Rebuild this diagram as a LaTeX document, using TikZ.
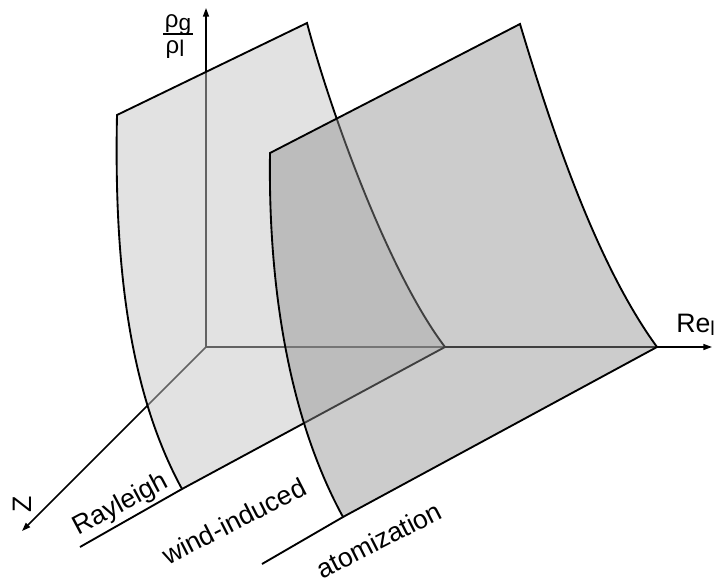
\documentclass[tikz,border=0pt]{standalone}
\usepackage{fontspec}
\setmainfont{Liberation Sans}
\usetikzlibrary{arrows.meta}
\definecolor{surfA}{gray}{0.773}
\definecolor{surfB}{gray}{0.553}
\newcommand\lowsub[2]{\raisebox{-0.25ex}{\fontsize{#1}{#1}\selectfont #2}}
\begin{document}
\begin{tikzpicture}[x=0.75pt,y=-0.75pt,
  axis/.style={line width=1.1pt,-{Triangle[length=6.5pt,width=4.5pt]}},
  edge/.style={line width=1.4pt, line join=miter},
  lab/.style={inner sep=0pt, font=\fontsize{20}{23}\selectfont},
  fraclab/.style={inner sep=0pt, font=\fontsize{18}{20}\selectfont},
]
\path[use as bounding box] (0,0) rectangle (714,582);
% axes
\coordinate (O) at (206,347);
\coordinate (Ytip) at (206,8);
\coordinate (Xtip) at (712,347);
\coordinate (Ztip) at (22,531);
\draw[axis] (O) -- (Ytip);
\draw[axis] (O) -- (Xtip);
\draw[axis] (O) -- (Ztip);
% surface 1 (Rayleigh / wind-induced boundary)
\coordinate (A1) at (117,115);
\coordinate (B1) at (307,23);
\coordinate (C1) at (445,347);
\coordinate (D1) at (182,489);
\filldraw[edge, fill=surfA, fill opacity=0.5]
  (A1) -- (B1) .. controls (330,110) and (388,272) .. (C1)
  -- (D1) .. controls (128,390) and (114,260) .. cycle;
% surface 2 (wind-induced / atomization boundary)
\coordinate (A2) at (270,153);
\coordinate (B2) at (520,24);
\coordinate (C2) at (657,347);
\coordinate (D2) at (343,517);
\filldraw[edge, fill=surfB, fill opacity=0.45]
  (A2) -- (B2) .. controls (550,124) and (595,262) .. (C2)
  -- (D2) .. controls (290,420) and (268,290) .. cycle;
% base line extensions
\coordinate (E1) at (80,547);
\coordinate (E2) at (262,564);
\draw[edge] (E1) -- (D1);
\draw[edge] (E2) -- (D2);
% labels
\node[lab, rotate=28] (rayleigh) at (121,505) {Rayleigh};
\node[lab, rotate=27] (wind) at (234,521) {wind-induced};
\node[lab, rotate=27] (atom) at (379,540) {atomization};
\node[lab, rotate=90] (zlab) at (22,504) {Z};
\node[lab, anchor=base west] (relab) at (676,332) {Re\lowsub{15}{l}};
\node[fraclab, anchor=base] (num) at (178,27) {ρ\lowsub{17}{g}};
\node[fraclab, anchor=base] (den) at (175,53) {ρ\lowsub{17}{l}};
\coordinate (F1) at (163,34);
\coordinate (F2) at (193,34);
\draw[line width=1.1pt] (F1) -- (F2);
\end{tikzpicture}
\end{document}
